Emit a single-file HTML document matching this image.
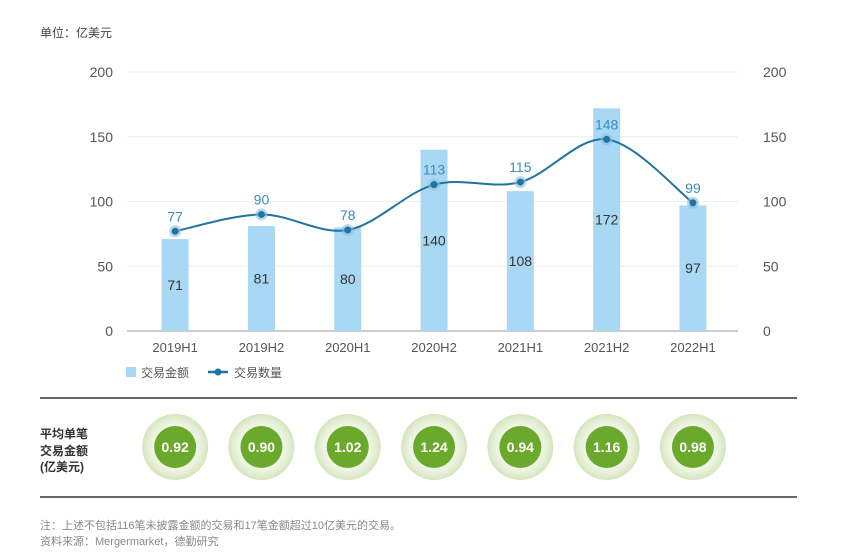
<!DOCTYPE html>
<html><head><meta charset="utf-8"><style>
body{margin:0;background:#fff;width:851px;height:549px;overflow:hidden;font-family:"Liberation Sans","Noto Sans CJK SC",sans-serif}
</style></head><body>
<svg width="851" height="549" viewBox="0 0 851 549" xmlns="http://www.w3.org/2000/svg" font-family="Liberation Sans, Noto Sans CJK SC, sans-serif">
<defs>
<radialGradient id="halo" cx="50%" cy="50%" r="50%">
<stop offset="0.6" stop-color="#f4f8ec"/><stop offset="0.85" stop-color="#e3eed3"/><stop offset="1" stop-color="#d3e5bd"/>
</radialGradient>
</defs>
<text x="40" y="37" font-size="12" fill="#444">单位：亿美元</text>
<g id="grid"></g><g id="bars"></g><g id="line"></g><g id="avg"></g>
<g>
<rect x="126" y="367" width="10" height="10" fill="#a8d8f4"/>
<text x="141" y="377" font-size="12" fill="#555">交易金额</text>
<line x1="208" y1="372" x2="228" y2="372" stroke="#1f74a5" stroke-width="2.5"/>
<circle cx="218" cy="372" r="3.5" fill="#1f74a5"/>
<text x="234" y="377" font-size="12" fill="#555">交易数量</text>
</g>
<line x1="40" y1="398" x2="797" y2="398" stroke="#666" stroke-width="2"/>
<line x1="40" y1="497" x2="797" y2="497" stroke="#666" stroke-width="2"/>
<g font-size="12" font-weight="bold" fill="#333">
<text x="40" y="438">平均单笔</text><text x="40" y="455">交易金额</text><text x="40" y="471">(亿美元)</text>
</g>
<text x="40" y="529" font-size="11" fill="#888">注：上述不包括116笔未披露金额的交易和17笔金额超过10亿美元的交易。</text>
<text x="40" y="545" font-size="11" fill="#888">资料来源：Mergermarket，德勤研究</text>
</svg>
<script>
const categories=["2019H1","2019H2","2020H1","2020H2","2021H1","2021H2","2022H1"];
const amounts=[71,81,80,140,108,172,97];
const counts=[77,90,78,113,115,148,99];
const averages=["0.92","0.90","1.02","1.24","0.94","1.16","0.98"];
const ticks=[0,50,100,150,200];
const NS="http://www.w3.org/2000/svg";
const x0=132,step=86.3,yBase=331,yTop=72,ymax=200;
const xs=i=>x0+step*(i+0.5);
const ys=v=>yBase-(yBase-yTop)*v/ymax;
function mk(t,a,p){const e=document.createElementNS(NS,t);for(const k in a)e.setAttribute(k,a[k]);p.appendChild(e);return e;}
const grid=document.getElementById('grid');
ticks.forEach(t=>{
 const l=mk('line',{x1:127,x2:738,y1:ys(t),y2:ys(t),stroke:t===0?'#bbb':'#eee','stroke-width':t===0?1.5:1},grid);
 
 
 const a=mk('text',{x:113,y:ys(t)+5,'font-size':14,fill:'#555','text-anchor':'end'},grid);a.textContent=t;
 
 
 const b=mk('text',{x:763,y:ys(t)+5,'font-size':14,fill:'#555'},grid);b.textContent=t;
 
 
});
const bars=document.getElementById('bars');
categories.forEach((c,i)=>{
 const r=mk('rect',{x:xs(i)-13.5,y:ys(amounts[i]),width:27,height:yBase-ys(amounts[i]),fill:'#a8d8f4'},bars);
 
 
 const t=mk('text',{x:xs(i),y:(ys(amounts[i])+yBase)/2+5,'font-size':14,fill:'#333','text-anchor':'middle'},bars);t.textContent=amounts[i];
 
 
 const xl=mk('text',{x:xs(i),y:352,'font-size':13,fill:'#555','text-anchor':'middle'},bars);xl.textContent=c;
 
 
});
const lg=document.getElementById('line');
const pts=counts.map((v,i)=>[xs(i),ys(v)]);
let d='M'+pts[0][0]+','+pts[0][1];
for(let i=0;i<pts.length-1;i++){
 const p0=pts[Math.max(0,i-1)],p1=pts[i],p2=pts[i+1],p3=pts[Math.min(pts.length-1,i+2)];
 const c1=[p1[0]+(p2[0]-p0[0])/6,p1[1]+(p2[1]-p0[1])/6],c2=[p2[0]-(p3[0]-p1[0])/6,p2[1]-(p3[1]-p1[1])/6];
 d+=' C'+c1+' '+c2+' '+p2;
}
const path=mk('path',{d:d,fill:'none',stroke:'#1f74a5','stroke-width':2},lg);


pts.forEach((p,i)=>{
 mk('circle',{cx:p[0],cy:p[1],r:6,fill:'#8fbcd8',opacity:0.6},lg);
 const c=mk('circle',{cx:p[0],cy:p[1],r:3.5,fill:'#1f74a5'},lg);
 
 
 const t=mk('text',{x:p[0],y:p[1]-10,'font-size':14,fill:'#3a8cc4','text-anchor':'middle'},lg);t.textContent=counts[i];
 
 
});
const av=document.getElementById('avg');
averages.forEach((v,i)=>{
 const o=mk('circle',{cx:xs(i),cy:447,r:33,fill:'url(#halo)'},av);
 
 
 mk('circle',{cx:xs(i),cy:447,r:21,fill:'#6aa92c'},av);
 const t=mk('text',{x:xs(i),y:452,'font-size':14,'font-weight':'bold',fill:'#fff','text-anchor':'middle'},av);t.textContent=v;
 
 
});
</script>
</body></html>
